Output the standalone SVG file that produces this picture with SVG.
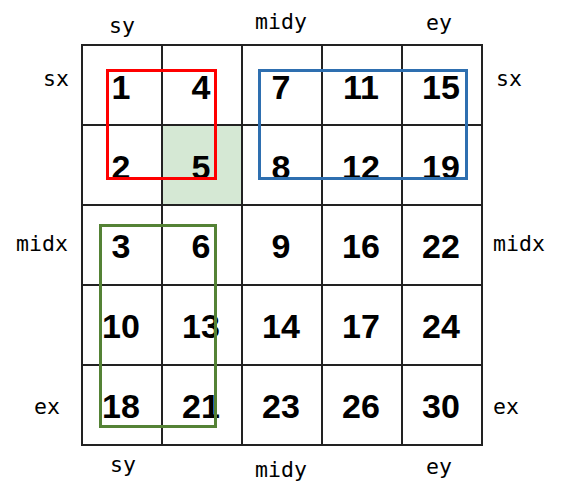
<svg xmlns="http://www.w3.org/2000/svg" width="561" height="499" viewBox="0 0 561 499">
<style>
.cell{fill:#ffffff;stroke:#222222;stroke-width:2}
.hl{fill:#d5e8d4}
.num{font-family:"Liberation Sans",Arial,sans-serif;font-weight:bold;font-size:34px;fill:#000;text-anchor:middle}
.lbl{font-family:"DejaVu Sans Mono","Liberation Mono",monospace;font-size:21.5px;fill:#000;text-anchor:middle}
.box{fill:none;stroke-width:3}
</style>
<rect width="561" height="499" fill="#ffffff"/>
<g id="cells">
<g id="c00"><rect class="cell" x="82" y="45" width="80" height="80"/><text class="num" x="121" y="99">1</text></g>
<g id="c01"><rect class="cell" x="162" y="45" width="80" height="80"/><text class="num" x="201" y="99">4</text></g>
<g id="c02"><rect class="cell" x="242" y="45" width="80" height="80"/><text class="num" x="281" y="99">7</text></g>
<g id="c03"><rect class="cell" x="322" y="45" width="80" height="80"/><text class="num" x="361" y="99">11</text></g>
<g id="c04"><rect class="cell" x="402" y="45" width="80" height="80"/><text class="num" x="441" y="99">15</text></g>
<g id="c10"><rect class="cell" x="82" y="125" width="80" height="80"/><text class="num" x="121" y="179">2</text></g>
<g id="c11"><rect class="cell hl" x="162" y="125" width="80" height="80"/><text class="num" x="201" y="179">5</text></g>
<g id="c12"><rect class="cell" x="242" y="125" width="80" height="80"/><text class="num" x="281" y="179">8</text></g>
<g id="c13"><rect class="cell" x="322" y="125" width="80" height="80"/><text class="num" x="361" y="179">12</text></g>
<g id="c14"><rect class="cell" x="402" y="125" width="80" height="80"/><text class="num" x="441" y="179">19</text></g>
<g id="c20"><rect class="cell" x="82" y="205" width="80" height="80"/><text class="num" x="121" y="258">3</text></g>
<g id="c21"><rect class="cell" x="162" y="205" width="80" height="80"/><text class="num" x="201" y="258">6</text></g>
<g id="c22"><rect class="cell" x="242" y="205" width="80" height="80"/><text class="num" x="281" y="258">9</text></g>
<g id="c23"><rect class="cell" x="322" y="205" width="80" height="80"/><text class="num" x="361" y="258">16</text></g>
<g id="c24"><rect class="cell" x="402" y="205" width="80" height="80"/><text class="num" x="441" y="258">22</text></g>
<g id="c30"><rect class="cell" x="82" y="285" width="80" height="80"/><text class="num" x="121" y="338">10</text></g>
<g id="c31"><rect class="cell" x="162" y="285" width="80" height="80"/><text class="num" x="201" y="338">13</text></g>
<g id="c32"><rect class="cell" x="242" y="285" width="80" height="80"/><text class="num" x="281" y="338">14</text></g>
<g id="c33"><rect class="cell" x="322" y="285" width="80" height="80"/><text class="num" x="361" y="338">17</text></g>
<g id="c34"><rect class="cell" x="402" y="285" width="80" height="80"/><text class="num" x="441" y="338">24</text></g>
<g id="c40"><rect class="cell" x="82" y="365" width="80" height="80"/><text class="num" x="121" y="418">18</text></g>
<g id="c41"><rect class="cell" x="162" y="365" width="80" height="80"/><text class="num" x="201" y="418">21</text></g>
<g id="c42"><rect class="cell" x="242" y="365" width="80" height="80"/><text class="num" x="281" y="418">23</text></g>
<g id="c43"><rect class="cell" x="322" y="365" width="80" height="80"/><text class="num" x="361" y="418">26</text></g>
<g id="c44"><rect class="cell" x="402" y="365" width="80" height="80"/><text class="num" x="441" y="418">30</text></g>
</g>
<g id="boxes">
<rect id="box-red" class="box" stroke="#ff0000" x="107.5" y="70.5" width="108" height="108"/>
<rect id="box-blue" class="box" stroke="#2e6fb0" x="259.5" y="70.5" width="207" height="108"/>
<rect id="box-green" class="box" stroke="#548235" x="100.5" y="225.5" width="115" height="201"/>
</g>
<g id="labels">
<text class="lbl" x="122" y="33">sy</text>
<text class="lbl" x="281" y="29">midy</text>
<text class="lbl" x="439" y="30">ey</text>
<text class="lbl" x="56" y="86">sx</text>
<text class="lbl" x="42" y="251">midx</text>
<text class="lbl" x="47" y="414">ex</text>
<text class="lbl" x="509" y="86">sx</text>
<text class="lbl" x="519" y="251">midx</text>
<text class="lbl" x="506" y="414">ex</text>
<text class="lbl" x="123" y="472">sy</text>
<text class="lbl" x="281" y="477">midy</text>
<text class="lbl" x="439" y="474">ey</text>
</g>
</svg>
